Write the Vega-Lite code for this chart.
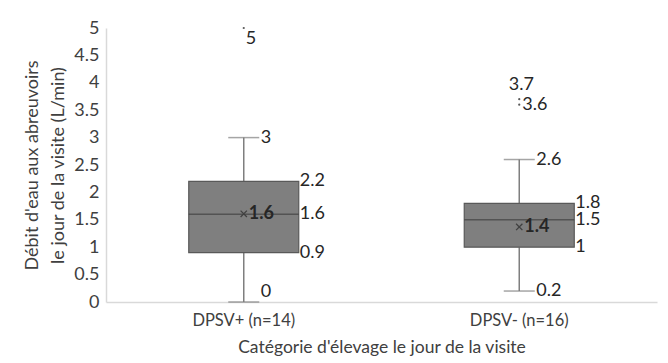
{
  "$schema": "https://vega.github.io/schema/vega-lite/v6.json",
  "width": 551,
  "height": 274,
  "autosize": {"type": "none"},
  "padding": {"left": 106, "top": 28, "right": 11, "bottom": 61},
  "background": "white",
  "config": {
    "view": {"stroke": null},
    "font": "Lato",
    "axis": {"labelFont": "Lato", "titleFont": "Lato", "labelFontSize": 16.5, "titleFontSize": 17.5, "labelColor": "#404040", "titleColor": "#404040", "titleFontWeight": "normal", "domainColor": "#d9d9d9", "domainWidth": 1.5, "ticks": false, "grid": false, "labelOverlap": false},
    "axisY": {"format": "~g", "labelFontSize": 18, "labelPadding": 7, "titlePadding": 6, "titleFontSize": 18, "titleLineHeight": 26}
  },
  "datasets": {
    "stats": [
      {"cat": "DPSV+ (n=14)", "min": 0, "q1": 0.9, "median": 1.6, "q3": 2.2, "max": 3, "mean": 1.61},
      {"cat": "DPSV- (n=16)", "min": 0.2, "q1": 1.0, "median": 1.5, "q3": 1.8, "max": 2.6, "mean": 1.37}
    ],
    "outliers": [
      {"cat": "DPSV+ (n=14)", "value": 5.0},
      {"cat": "DPSV- (n=16)", "value": 3.7},
      {"cat": "DPSV- (n=16)", "value": 3.6}
    ]
  },
  "encoding": {
    "x": {"field": "cat", "type": "nominal", "sort": null, "scale": {"paddingInner": 0, "paddingOuter": 0},
      "axis": {"title": "Catégorie d'élevage le jour de la visite", "labelAngle": 0, "labelPadding": 10, "titlePadding": 10}}
  },
  "layer": [
    {
      "data": {"name": "stats"},
      "mark": {"type": "rule", "color": "#7f7f7f", "strokeWidth": 1.5},
      "encoding": {
        "y": {"field": "min", "type": "quantitative", "scale": {"domain": [0, 5]},
          "axis": {"title": ["Débit d'eau aux abreuvoirs", "le jour de la visite (L/min)"], "values": [0,0.5,1,1.5,2,2.5,3,3.5,4,4.5,5], "tickCount": 11}},
        "y2": {"field": "q1"}
      }
    },
    {
      "data": {"name": "stats"},
      "mark": {"type": "rule", "color": "#7f7f7f", "strokeWidth": 1.5},
      "encoding": {"y": {"field": "q3", "type": "quantitative", "axis": {"title": ["Débit d'eau aux abreuvoirs", "le jour de la visite (L/min)"], "values": [0,0.5,1,1.5,2,2.5,3,3.5,4,4.5,5], "tickCount": 11}}, "y2": {"field": "max"}}
    },
    {
      "data": {"name": "stats"},
      "mark": {"type": "tick", "color": "#7f7f7f", "size": 31, "thickness": 1.5},
      "encoding": {"y": {"field": "max", "type": "quantitative", "axis": {"title": ["Débit d'eau aux abreuvoirs", "le jour de la visite (L/min)"], "values": [0,0.5,1,1.5,2,2.5,3,3.5,4,4.5,5], "tickCount": 11}}}
    },
    {
      "data": {"name": "stats"},
      "mark": {"type": "tick", "color": "#7f7f7f", "size": 31, "thickness": 1.5},
      "encoding": {"y": {"field": "min", "type": "quantitative", "axis": {"title": ["Débit d'eau aux abreuvoirs", "le jour de la visite (L/min)"], "values": [0,0.5,1,1.5,2,2.5,3,3.5,4,4.5,5], "tickCount": 11}}}
    },
    {
      "data": {"name": "stats"},
      "mark": {"type": "bar", "fill": "#7f7f7f", "stroke": "#595959", "strokeWidth": 1.2, "width": 110},
      "encoding": {"y": {"field": "q1", "type": "quantitative", "axis": {"title": ["Débit d'eau aux abreuvoirs", "le jour de la visite (L/min)"], "values": [0,0.5,1,1.5,2,2.5,3,3.5,4,4.5,5], "tickCount": 11}}, "y2": {"field": "q3"}}
    },
    {
      "data": {"name": "stats"},
      "mark": {"type": "tick", "color": "#404040", "size": 110, "thickness": 1.5},
      "encoding": {"y": {"field": "median", "type": "quantitative", "axis": {"title": ["Débit d'eau aux abreuvoirs", "le jour de la visite (L/min)"], "values": [0,0.5,1,1.5,2,2.5,3,3.5,4,4.5,5], "tickCount": 11}}}
    },
    {
      "data": {"name": "stats"},
      "mark": {"type": "point", "shape": "M -1 -1 L 1 1 M -1 1 L 1 -1", "filled": false, "size": 40, "strokeWidth": 1.3, "color": "#404040", "opacity": 1},
      "encoding": {"y": {"field": "mean", "type": "quantitative", "axis": {"title": ["Débit d'eau aux abreuvoirs", "le jour de la visite (L/min)"], "values": [0,0.5,1,1.5,2,2.5,3,3.5,4,4.5,5], "tickCount": 11}}}
    },
    {
      "data": {"name": "stats"},
      "mark": {"type": "text", "align": "left", "baseline": "middle", "dx": 5, "fontSize": 18, "fontWeight": "bold", "color": "#262626"},
      "encoding": {"y": {"field": "mean", "type": "quantitative", "axis": {"title": ["Débit d'eau aux abreuvoirs", "le jour de la visite (L/min)"], "values": [0,0.5,1,1.5,2,2.5,3,3.5,4,4.5,5], "tickCount": 11}}, "text": {"field": "mean", "type": "quantitative", "format": ".1f"}}
    },
    {
      "data": {"name": "stats"},
      "mark": {"type": "text", "align": "left", "baseline": "middle", "dx": 17, "fontSize": 18, "color": "#262626"},
      "encoding": {"y": {"field": "max", "type": "quantitative", "axis": {"title": ["Débit d'eau aux abreuvoirs", "le jour de la visite (L/min)"], "values": [0,0.5,1,1.5,2,2.5,3,3.5,4,4.5,5], "tickCount": 11}}, "text": {"field": "max", "type": "quantitative", "format": "~g"}}
    },
    {
      "data": {"name": "stats"},
      "transform": [{"filter": "datum.min >= 0.1"}],
      "mark": {"type": "text", "align": "left", "baseline": "middle", "dx": 17, "fontSize": 18, "color": "#262626"},
      "encoding": {"y": {"field": "min", "type": "quantitative", "axis": {"title": ["Débit d'eau aux abreuvoirs", "le jour de la visite (L/min)"], "values": [0,0.5,1,1.5,2,2.5,3,3.5,4,4.5,5], "tickCount": 11}}, "text": {"field": "min", "type": "quantitative", "format": "~g"}}
    },
    {
      "data": {"name": "stats"},
      "transform": [{"filter": "datum.min < 0.1"}],
      "mark": {"type": "text", "align": "left", "baseline": "middle", "dx": 17, "dy": -10, "fontSize": 18, "color": "#262626"},
      "encoding": {"y": {"field": "min", "type": "quantitative", "axis": {"title": ["Débit d'eau aux abreuvoirs", "le jour de la visite (L/min)"], "values": [0,0.5,1,1.5,2,2.5,3,3.5,4,4.5,5], "tickCount": 11}}, "text": {"field": "min", "type": "quantitative", "format": "~g"}}
    },
    {
      "data": {"name": "stats"},
      "mark": {"type": "text", "align": "left", "baseline": "middle", "dx": 56, "fontSize": 18, "color": "#262626"},
      "encoding": {"y": {"field": "q3", "type": "quantitative", "axis": {"title": ["Débit d'eau aux abreuvoirs", "le jour de la visite (L/min)"], "values": [0,0.5,1,1.5,2,2.5,3,3.5,4,4.5,5], "tickCount": 11}}, "text": {"field": "q3", "type": "quantitative", "format": "~g"}}
    },
    {
      "data": {"name": "stats"},
      "mark": {"type": "text", "align": "left", "baseline": "middle", "dx": 56, "fontSize": 18, "color": "#262626"},
      "encoding": {"y": {"field": "median", "type": "quantitative", "axis": {"title": ["Débit d'eau aux abreuvoirs", "le jour de la visite (L/min)"], "values": [0,0.5,1,1.5,2,2.5,3,3.5,4,4.5,5], "tickCount": 11}}, "text": {"field": "median", "type": "quantitative", "format": "~g"}}
    },
    {
      "data": {"name": "stats"},
      "mark": {"type": "text", "align": "left", "baseline": "middle", "dx": 56, "fontSize": 18, "color": "#262626"},
      "encoding": {"y": {"field": "q1", "type": "quantitative", "axis": {"title": ["Débit d'eau aux abreuvoirs", "le jour de la visite (L/min)"], "values": [0,0.5,1,1.5,2,2.5,3,3.5,4,4.5,5], "tickCount": 11}}, "text": {"field": "q1", "type": "quantitative", "format": "~g"}}
    },
    {
      "data": {"name": "outliers"},
      "mark": {"type": "point", "shape": "circle", "filled": true, "size": 5, "color": "#595959", "opacity": 1},
      "encoding": {"y": {"field": "value", "type": "quantitative", "axis": {"title": ["Débit d'eau aux abreuvoirs", "le jour de la visite (L/min)"], "values": [0,0.5,1,1.5,2,2.5,3,3.5,4,4.5,5], "tickCount": 11}}}
    },
    {
      "data": {"name": "outliers"},
      "transform": [{"filter": "datum.value > 4.5"}],
      "mark": {"type": "text", "align": "left", "baseline": "middle", "dx": 2, "dy": 11, "fontSize": 18, "color": "#262626"},
      "encoding": {"y": {"field": "value", "type": "quantitative", "axis": {"title": ["Débit d'eau aux abreuvoirs", "le jour de la visite (L/min)"], "values": [0,0.5,1,1.5,2,2.5,3,3.5,4,4.5,5], "tickCount": 11}}, "text": {"field": "value", "type": "quantitative", "format": "~g"}}
    },
    {
      "data": {"name": "outliers"},
      "transform": [{"filter": "datum.value > 3.65 && datum.value < 4.5"}],
      "mark": {"type": "text", "align": "center", "baseline": "middle", "dx": 2, "dy": -14, "fontSize": 18, "color": "#262626"},
      "encoding": {"y": {"field": "value", "type": "quantitative", "axis": {"title": ["Débit d'eau aux abreuvoirs", "le jour de la visite (L/min)"], "values": [0,0.5,1,1.5,2,2.5,3,3.5,4,4.5,5], "tickCount": 11}}, "text": {"field": "value", "type": "quantitative", "format": "~g"}}
    },
    {
      "data": {"name": "outliers"},
      "transform": [{"filter": "datum.value < 3.65"}],
      "mark": {"type": "text", "align": "left", "baseline": "middle", "dx": 3, "fontSize": 18, "color": "#262626"},
      "encoding": {"y": {"field": "value", "type": "quantitative", "axis": {"title": ["Débit d'eau aux abreuvoirs", "le jour de la visite (L/min)"], "values": [0,0.5,1,1.5,2,2.5,3,3.5,4,4.5,5], "tickCount": 11}}, "text": {"field": "value", "type": "quantitative", "format": "~g"}}
    }
  ]
}
